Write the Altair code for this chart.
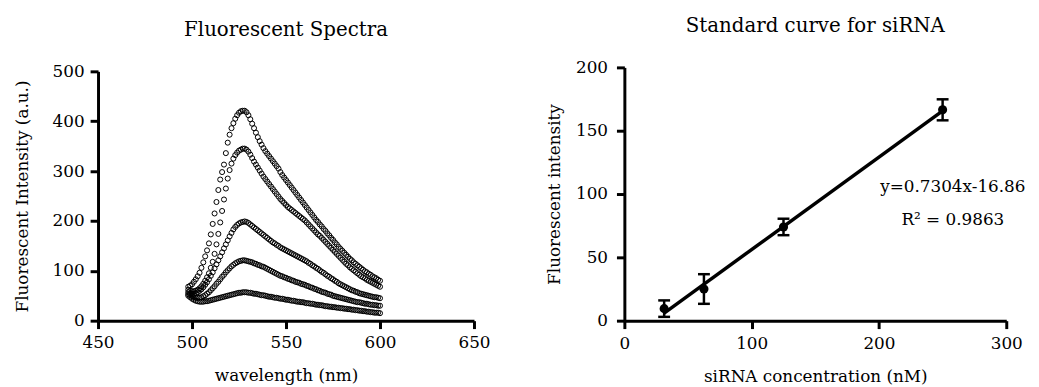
import altair as alt
import pandas as pd

# ---------------- data: left panel (fluorescent spectra) ----------------
wavelength = list(range(498, 601))

spectrum_a = [68, 70, 73, 78, 83, 89, 96, 106, 117, 129, 141, 155, 173, 194, 215, 238, 262, 283, 298, 313,
              336, 357, 373, 386, 396, 405, 412, 417, 420, 421, 421, 418, 412, 404, 395, 386, 377, 368, 360, 353,
              346, 340, 335, 330, 325, 320, 315, 310, 305, 298, 292, 287, 282, 277, 272, 267, 262, 257, 252, 247,
              242, 237, 232, 227, 222, 217, 212, 207, 202, 198, 193, 189, 184, 180, 175, 171, 166, 162, 157, 153,
              148, 144, 140, 136, 132, 128, 124, 121, 117, 114, 111, 108, 105, 102, 99, 97, 94, 92, 89, 87,
              85, 82, 80]
spectrum_b = [62, 60, 59, 59, 60, 62, 65, 69, 74, 80, 87, 95, 106, 118, 134, 153, 174, 197, 220, 243,
              265, 285, 302, 315, 325, 332, 337, 341, 343, 345, 345, 343, 339, 333, 326, 319, 313, 307, 301, 295,
              289, 284, 279, 274, 269, 264, 259, 254, 249, 244, 240, 236, 232, 228, 225, 222, 219, 216, 213, 210,
              207, 204, 201, 197, 193, 189, 185, 181, 177, 173, 170, 166, 162, 158, 154, 150, 146, 142, 138, 134,
              130, 126, 122, 118, 114, 111, 107, 104, 101, 98, 95, 92, 89, 87, 85, 82, 80, 78, 76, 74,
              72, 70, 68]
spectrum_c = [57, 55, 54, 54, 55, 57, 60, 63, 67, 72, 77, 83, 90, 97, 105, 113, 121, 129, 137, 145,
              153, 161, 169, 176, 183, 188, 192, 195, 197, 198, 199, 198, 196, 193, 190, 187, 184, 181, 178, 175,
              172, 169, 166, 163, 160, 157, 155, 152, 150, 147, 145, 143, 141, 139, 137, 135, 133, 131, 129, 127,
              125, 123, 121, 119, 116, 114, 111, 109, 106, 104, 101, 98, 96, 93, 90, 88, 85, 83, 80, 78,
              75, 73, 71, 69, 67, 65, 63, 61, 60, 58, 57, 55, 54, 53, 52, 51, 50, 49, 48, 47,
              47, 46, 45]
spectrum_d = [53, 51, 49, 47, 46, 46, 46, 47, 49, 51, 54, 57, 61, 65, 69, 74, 78, 83, 88, 92,
              97, 101, 105, 109, 112, 115, 117, 119, 120, 121, 121, 120, 119, 118, 117, 115, 114, 112, 111, 109,
              108, 106, 104, 102, 100, 98, 96, 94, 92, 90, 89, 87, 86, 84, 83, 81, 80, 78, 77, 76,
              74, 73, 72, 70, 69, 67, 66, 64, 63, 61, 60, 58, 57, 56, 54, 53, 52, 50, 49, 48,
              47, 46, 45, 44, 43, 42, 41, 40, 39, 38, 37, 37, 36, 35, 34, 34, 33, 32, 32, 31,
              31, 30, 30]
spectrum_e = [50, 47, 44, 42, 40, 39, 38, 38, 38, 39, 39, 40, 41, 42, 43, 44, 45, 46, 47, 48,
              49, 50, 51, 52, 53, 54, 55, 56, 56, 57, 57, 57, 56, 56, 55, 54, 54, 53, 52, 51,
              51, 50, 49, 48, 48, 47, 46, 46, 45, 44, 44, 43, 42, 42, 41, 40, 40, 39, 38, 38,
              37, 37, 36, 35, 35, 34, 34, 33, 32, 32, 31, 31, 30, 29, 29, 28, 28, 27, 27, 26,
              26, 25, 25, 24, 24, 23, 23, 22, 22, 21, 21, 20, 20, 19, 19, 18, 18, 17, 17, 16,
              16, 16, 15]
spectrum_names = ["A", "B", "C", "D", "E"]

# ---------------- data: right panel (standard curve) ----------------
concentration = [31.25, 62.5, 125, 250]
intensity_mean = [9.5, 25, 74, 166.5]
intensity_sd = [6.5, 11.7, 6.5, 8.3]
fit_slope = 0.7304
fit_intercept = -16.86
equation_text = "y=0.7304x-16.86"
r2_text = "R\u00b2 = 0.9863"

left_title = "Fluorescent Spectra"
right_title = "Standard curve for siRNA"

FONT = "DejaVu Serif"

rows = []
for name, vals in zip(spectrum_names, [spectrum_a, spectrum_b, spectrum_c, spectrum_d, spectrum_e]):
    for w, v in zip(wavelength, vals):
        rows.append({"wavelength": w, "intensity": v, "series": name})
spec_df = pd.DataFrame(rows)

std_df = pd.DataFrame({
    "conc": concentration,
    "mean": intensity_mean,
    "lo": [m - s for m, s in zip(intensity_mean, intensity_sd)],
    "hi": [m + s for m, s in zip(intensity_mean, intensity_sd)],
})
fit_df = pd.DataFrame({
    "conc": [concentration[0], concentration[-1]],
    "fit": [fit_slope * concentration[0] + fit_intercept, fit_slope * concentration[-1] + fit_intercept],
})
one = pd.DataFrame({"k": [0]})


def title_mark(text, x, y):
    return alt.Chart(one).mark_text(font=FONT, fontSize=20, fontWeight="normal", color="black",
                                    align="center", baseline="middle").encode(
        x=alt.value(x), y=alt.value(y), text=alt.value(text))


def spacer(y):
    # invisible element that sets the top of the panel's bounds
    return alt.Chart(one).mark_rule(strokeOpacity=0, strokeWidth=1).encode(
        x=alt.value(0), x2=alt.value(1), y=alt.value(y))


# ---------------- left panel ----------------
# plot group is 256 tall; the y scale uses only its lower 252 px (top of axis 4 px lower than right panel)
spec_pts = alt.Chart(spec_df).mark_point(
    shape="circle", filled=False, size=26, strokeWidth=1, color="black", opacity=1
).encode(
    x=alt.X("wavelength:Q", scale=alt.Scale(domain=[450, 650], nice=False, zero=False),
            axis=alt.Axis(values=[450, 500, 550, 600, 650], title="wavelength (nm)",
                          labelPadding=6, titlePadding=17)),
    y=alt.Y("intensity:Q", scale=alt.Scale(domain=[0, 500], nice=False, range=[256, 4]),
            axis=alt.Axis(values=[0, 100, 200, 300, 400, 500], title="Fluorescent Intensity (a.u.)",
                          labelPadding=6, titlePadding=21)),
    detail="series:N",
)
left = alt.layer(spec_pts, title_mark(left_title, 190, -38)).properties(width=380, height=256)

# ---------------- right panel ----------------
xs = alt.Scale(domain=[0, 300], nice=False)
ys = alt.Scale(domain=[0, 200], nice=False)
xenc = alt.X("conc:Q", scale=xs, axis=alt.Axis(values=[0, 100, 200, 300], title="siRNA concentration (nM)",
                                                labelPadding=7, titlePadding=17))

fit_line = alt.Chart(fit_df).mark_line(color="black", strokeWidth=3.5).encode(
    x=xenc,
    y=alt.Y("fit:Q", scale=ys, axis=alt.Axis(values=[0, 50, 100, 150, 200], title="Fluorescent intensity",
                                             labelPadding=9, titlePadding=12)),
)
err_rule = alt.Chart(std_df).mark_rule(color="black", strokeWidth=2.5).encode(
    x=xenc, y=alt.Y("lo:Q", scale=ys), y2="hi:Q"
)
cap_lo = alt.Chart(std_df).mark_tick(orient="horizontal", color="black", size=12, thickness=2.5, opacity=1).encode(
    x=xenc, y=alt.Y("lo:Q", scale=ys)
)
cap_hi = alt.Chart(std_df).mark_tick(orient="horizontal", color="black", size=12, thickness=2.5, opacity=1).encode(
    x=xenc, y=alt.Y("hi:Q", scale=ys)
)
pts = alt.Chart(std_df).mark_point(shape="circle", filled=True, size=85, color="black", opacity=1).encode(
    x=xenc, y=alt.Y("mean:Q", scale=ys)
)
eq = alt.Chart(one).mark_text(font=FONT, fontSize=17, fontWeight="normal", color="black",
                              align="center", baseline="middle").encode(
    x=alt.value(332), y=alt.value(121), text=alt.value(equation_text)
)
r2 = alt.Chart(one).mark_text(font=FONT, fontSize=17, fontWeight="normal", color="black",
                              align="center", baseline="middle").encode(
    x=alt.value(332), y=alt.value(154), text=alt.value(r2_text)
)

right = alt.layer(fit_line, err_rule, cap_lo, cap_hi, pts, eq, r2,
                  title_mark(right_title, 193, -41.5), spacer(-53)).properties(width=386, height=256)

chart = alt.hconcat(left, right, spacing=55).properties(
    padding={"left": 5, "top": 5, "right": 5, "bottom": 0}
).configure_view(stroke=None).configure_axis(
    grid=False,
    domainColor="black", domainWidth=3,
    tickColor="black", tickWidth=3, tickSize=8,
    labelFont=FONT, labelFontSize=17, labelColor="black",
    titleFont=FONT, titleFontSize=17, titleFontWeight="normal", titleColor="black",
    labelFlush=False,
)

chart.save("out.html", embed_options={"renderer": "svg", "actions": False})
